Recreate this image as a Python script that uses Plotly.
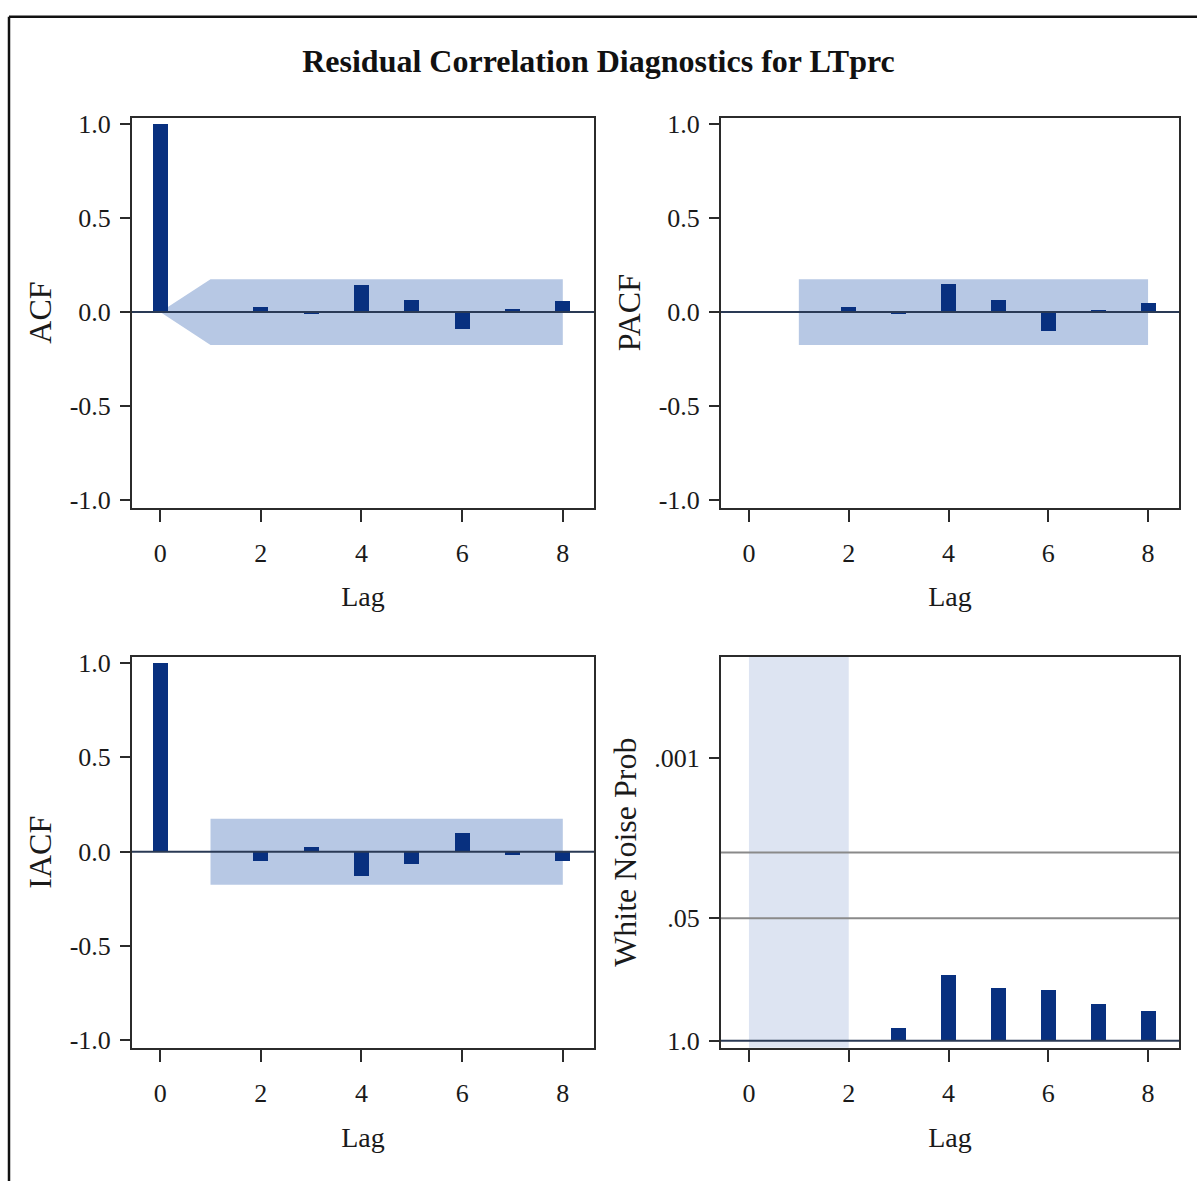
import plotly.graph_objects as go
import numpy as np

# ---------------- data ----------------
title_text = "Residual Correlation Diagnostics for LTprc"

acf_lags = [0, 1, 2, 3, 4, 5, 6, 7, 8]
acf_vals = [1.0, 0.005, 0.03, -0.005, 0.145, 0.065, -0.09, 0.02, 0.06]

pacf_lags = [1, 2, 3, 4, 5, 6, 7, 8]
pacf_vals = [0.005, 0.03, -0.005, 0.15, 0.065, -0.10, 0.015, 0.05]

iacf_lags = [0, 1, 2, 3, 4, 5, 6, 7, 8]
iacf_vals = [1.0, 0.0, -0.05, 0.025, -0.13, -0.065, 0.10, -0.015, -0.05]

wn_lags = [3, 4, 5, 6, 7, 8]
wn_prob = [0.724, 0.197, 0.272, 0.287, 0.403, 0.473]

# confidence bands (two standard errors)
acf_band_lags = [0, 1, 8]
acf_band_upper = [0.0, 0.175, 0.175]
pacf_band_lags = [1, 8]
pacf_band_upper = [0.175, 0.175]
iacf_band_lags = [1, 8]
iacf_band_upper = [0.175, 0.175]

wn_missing_lags = [0, 2]          # lags where the white noise test is not shown
wn_ref_probs = [0.05, 0.01]        # reference lines
wn_tickvals = [1.0, 0.05, 0.001]
wn_ticktext = ["1.0", ".05", ".001"]

corr_tickvals = [1.0, 0.5, 0.0, -0.5, -1.0]
corr_ticktext = ["1.0", "0.5", "0.0", "-0.5", "-1.0"]
lag_tickvals = [0, 2, 4, 6, 8]
lag_ticktext = ["0", "2", "4", "6", "8"]

# ---------------- style ----------------
FONT = "Liberation Serif, Times New Roman, serif"
BAR_COLOR = "#08307f"
BAND_COLOR = "#b7c8e4"
WN_BAND_COLOR = "#dde4f2"
AXIS_COLOR = "#2b2b2b"
ZERO_COLOR = "#2a3a55"
TXT = "#1a1a1a"
BAR_W = 0.3
XR = [-0.56, 8.62]
YR = [-1.04, 1.034]

W, H = 1197, 1189
def px_x(p):
    return p / W
def px_y(p):
    return 1 - p / H

dom_x_left = [px_x(132), px_x(594)]
dom_x_right = [px_x(721), px_x(1179)]
dom_y_top = [px_y(507), px_y(112)]
dom_y_bot = [px_y(1054), px_y(658)]

fig = go.Figure()

def add_bars(lags, vals, xa, ya, base=None):
    fig.add_trace(go.Bar(x=lags, y=vals, width=BAR_W, base=base,
                         marker=dict(color=BAR_COLOR, line=dict(width=0)),
                         xaxis=xa, yaxis=ya, showlegend=False,
                         hoverinfo="x+y"))

def add_hline(yval, xa, ya, color, width):
    fig.add_trace(go.Scatter(x=XR, y=[yval, yval], mode="lines",
                             line=dict(color=color, width=width),
                             xaxis=xa, yaxis=ya, showlegend=False,
                             hoverinfo="skip"))

def band_path(lags, upper):
    pts = ["M {},{}".format(lags[0], upper[0])]
    for l, u in zip(lags[1:], upper[1:]):
        pts.append("L {},{}".format(l, u))
    for l, u in zip(lags[::-1], upper[::-1]):
        pts.append("L {},{}".format(l, -u))
    return " ".join(pts) + " Z"

# ACF
add_bars(acf_lags, acf_vals, "x", "y")
add_hline(0, "x", "y", ZERO_COLOR, 2)
# PACF
add_bars(pacf_lags, pacf_vals, "x2", "y2")
add_hline(0, "x2", "y2", ZERO_COLOR, 2)
# IACF
add_bars(iacf_lags, iacf_vals, "x3", "y3")
add_hline(0, "x3", "y3", ZERO_COLOR, 2)
# White noise (log axis, reversed); bars grow from p = 1 to p
add_bars(wn_lags, [p - 1.0 for p in wn_prob], "x4", "y4", base=1.0)
for rp in wn_ref_probs:
    add_hline(rp, "x4", "y4", "#8a8a8a", 2)
add_hline(1.0, "x4", "y4", ZERO_COLOR, 2)

shapes = [
    dict(type="path", path=band_path(acf_band_lags, acf_band_upper),
         xref="x", yref="y", fillcolor=BAND_COLOR, line=dict(width=0), layer="below"),
    dict(type="path", path=band_path(pacf_band_lags, pacf_band_upper),
         xref="x2", yref="y2", fillcolor=BAND_COLOR, line=dict(width=0), layer="below"),
    dict(type="path", path=band_path(iacf_band_lags, iacf_band_upper),
         xref="x3", yref="y3", fillcolor=BAND_COLOR, line=dict(width=0), layer="below"),
    dict(type="rect", x0=wn_missing_lags[0], x1=wn_missing_lags[1], y0=0, y1=1,
         xref="x4", yref="y4 domain", fillcolor=WN_BAND_COLOR, line=dict(width=0),
         layer="below"),
    # outer frame (top and left edges visible)
    dict(type="line", xref="paper", yref="paper", x0=px_x(9), x1=1.0,
         y0=px_y(10), y1=px_y(10), line=dict(color="#111", width=2.5)),
    dict(type="line", xref="paper", yref="paper", x0=px_x(9), x1=px_x(9),
         y0=px_y(10), y1=0, line=dict(color="#111", width=2.5)),
]

def xaxis(dom, anchor):
    return dict(domain=dom, anchor=anchor, range=XR, tickmode="array",
                tickvals=lag_tickvals, ticktext=lag_ticktext,
                showline=True, mirror=True, linecolor=AXIS_COLOR, linewidth=2,
                ticks="outside", ticklen=12, tickwidth=2, tickcolor=AXIS_COLOR,
                showgrid=False, zeroline=False, ticklabelstandoff=9,
                tickfont=dict(family=FONT, size=26, color=TXT),
                title=dict(text="Lag", font=dict(family=FONT, size=28, color=TXT),
                           standoff=20))

def yaxis(dom, anchor, title, **kw):
    d = dict(domain=dom, anchor=anchor, range=YR, tickmode="array",
             tickvals=corr_tickvals, ticktext=corr_ticktext,
             showline=True, mirror=True, linecolor=AXIS_COLOR, linewidth=2,
             ticks="outside", ticklen=10, tickwidth=2, tickcolor=AXIS_COLOR,
             showgrid=False, zeroline=False, ticklabelstandoff=4,
             tickfont=dict(family=FONT, size=26, color=TXT),
             title=dict(text=title, font=dict(family=FONT, size=32, color=TXT),
                        standoff=8))
    d.update(kw)
    return d

fig.update_layout(
    width=W, height=H,
    margin=dict(l=0, r=0, t=0, b=0),
    paper_bgcolor="white", plot_bgcolor="white",
    font=dict(family=FONT, color=TXT),
    bargap=0,
    title=dict(text="<b>" + title_text + "</b>", x=0.5, xanchor="center",
               y=px_y(61), yanchor="middle",
               font=dict(family=FONT, size=32, color="#111")),
    xaxis=xaxis(dom_x_left, "y"),
    yaxis=yaxis(dom_y_top, "x", "ACF"),
    xaxis2=xaxis(dom_x_right, "y2"),
    yaxis2=yaxis(dom_y_top, "x2", "PACF"),
    xaxis3=xaxis(dom_x_left, "y3"),
    yaxis3=yaxis(dom_y_bot, "x3", "IACF"),
    xaxis4=xaxis(dom_x_right, "y4"),
    yaxis4=yaxis(dom_y_bot, "x4", "White Noise Prob", type="log",
                 range=[0.073, -4.08], tickvals=wn_tickvals, ticktext=wn_ticktext),
    shapes=shapes,
)

fig.write_html("out.html")
